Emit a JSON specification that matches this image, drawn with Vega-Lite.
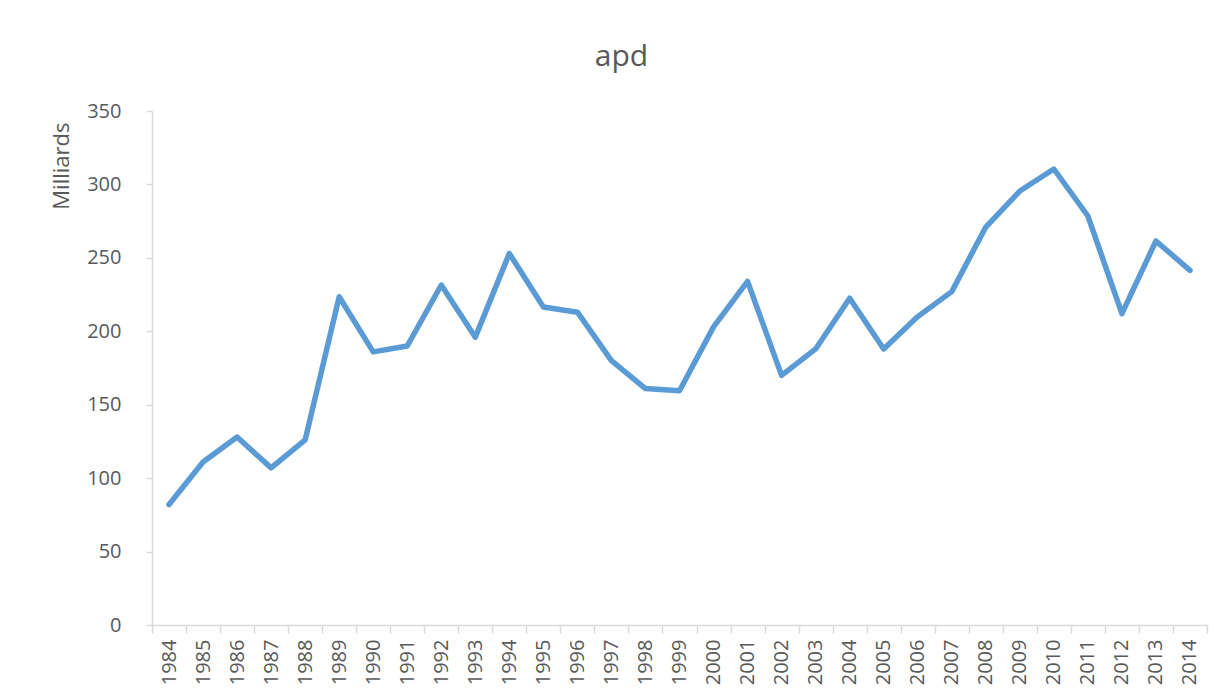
{
  "$schema": "https://vega.github.io/schema/vega-lite/v6.json",
  "width": 1055,
  "height": 514,
  "autosize": {"type": "none"},
  "padding": {"left": 152, "top": 111, "right": 16, "bottom": 73},
  "background": "white",
  "config": {
    "view": {"stroke": null},
    "font": "Open Sans",
    "axis": {"labelColor": "#595959", "titleColor": "#595959", "domainColor": "#D9D9D9", "tickColor": "#D9D9D9", "grid": false}
  },
  "title": {
    "text": "apd",
    "fontSize": 30,
    "fontWeight": "normal",
    "color": "#595959",
    "anchor": "middle",
    "dx": -58,
    "offset": 29
  },
  "data": {
    "values": [
      {"year": "1984", "value": 82},
      {"year": "1985", "value": 111},
      {"year": "1986", "value": 128},
      {"year": "1987", "value": 107},
      {"year": "1988", "value": 126},
      {"year": "1989", "value": 223.5},
      {"year": "1990", "value": 186},
      {"year": "1991", "value": 190},
      {"year": "1992", "value": 231.5},
      {"year": "1993", "value": 196},
      {"year": "1994", "value": 253},
      {"year": "1995", "value": 216.5},
      {"year": "1996", "value": 213},
      {"year": "1997", "value": 180},
      {"year": "1998", "value": 161},
      {"year": "1999", "value": 159.5},
      {"year": "2000", "value": 203},
      {"year": "2001", "value": 234},
      {"year": "2002", "value": 170},
      {"year": "2003", "value": 188},
      {"year": "2004", "value": 222.5},
      {"year": "2005", "value": 188},
      {"year": "2006", "value": 210},
      {"year": "2007", "value": 227},
      {"year": "2008", "value": 271},
      {"year": "2009", "value": 295.5},
      {"year": "2010", "value": 310.5},
      {"year": "2011", "value": 278.5},
      {"year": "2012", "value": 212},
      {"year": "2013", "value": 261.5},
      {"year": "2014", "value": 241.5}
    ]
  },
  "mark": {"type": "line", "color": "#5B9BD5", "strokeWidth": 5.5, "strokeCap": "round", "strokeJoin": "round"},
  "encoding": {
    "x": {
      "field": "year",
      "type": "ordinal",
      "scale": {"type": "band", "paddingInner": 0, "paddingOuter": 0},
      "axis": {
        "title": null,
        "labelAngle": -90,
        "labelFontSize": 20,
        "labelPadding": 6,
        "tickBand": "extent",
        "tickSize": 8,
        "domainWidth": 1.5,
        "tickWidth": 1.5
      }
    },
    "y": {
      "field": "value",
      "type": "quantitative",
      "scale": {"domain": [0, 350], "nice": false},
      "axis": {
        "title": "Milliards",
        "titleFontSize": 22,
        "titleFontWeight": "normal",
        "titleAngle": -90,
        "titleAlign": "right",
        "titleBaseline": "top",
        "titleX": -101,
        "titleY": 11,
        "labelFontSize": 20,
        "labelPadding": 25,
        "tickSize": 6,
        "values": [0, 50, 100, 150, 200, 250, 300, 350],
        "domainWidth": 1.5,
        "tickWidth": 1.5
      }
    }
  }
}
